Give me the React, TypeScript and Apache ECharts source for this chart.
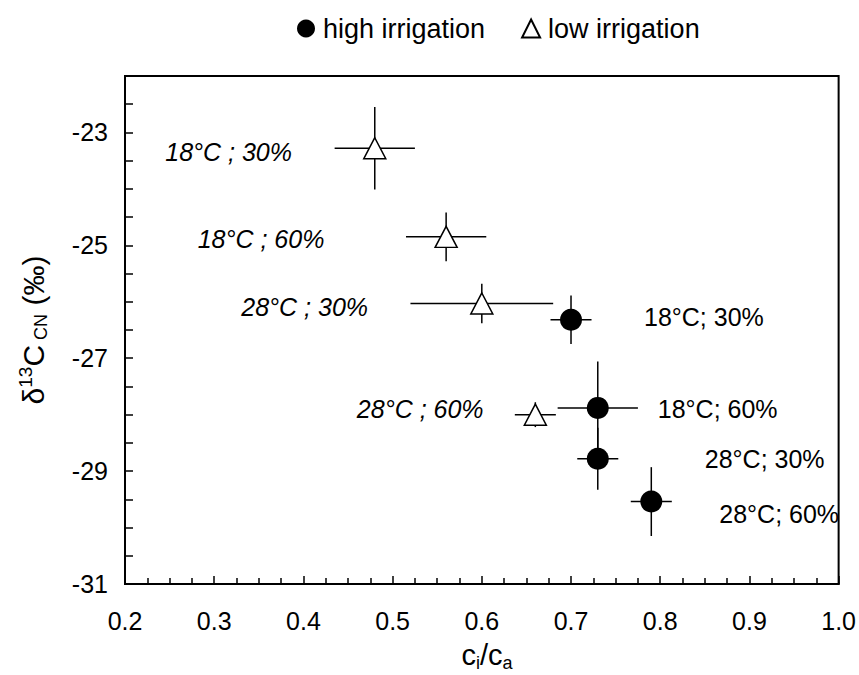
import React, { useEffect, useRef } from 'react';
import * as echarts from 'echarts';

// High irrigation (filled circles)
const highX = [0.7, 0.73, 0.73, 0.79];
const highY = [-26.32, -27.88, -28.78, -29.54];
const highXErr = [0.023, 0.045, 0.023, 0.023];
const highYErr = [0.43, 0.82, 0.55, 0.61];
const highLabels = ['18°C; 30%', '18°C; 60%', '28°C; 30%', '28°C; 60%'];

// Low irrigation (open triangles)
const lowX = [0.48, 0.56, 0.6, 0.66];
const lowY = [-23.28, -24.85, -26.03, -28.0];
const lowXErr = [0.045, 0.045, 0.08, 0.023];
const lowYErr = [0.73, 0.43, 0.35, 0.22];
const lowLabels = ['18°C ; 30%', '18°C ; 60%', '28°C ; 30%', '28°C ; 60%'];

const seriesNames = ['high irrigation', 'low irrigation'];
const yTickLabels = [-31, -29, -27, -25, -23];

export default function App() {
  const ref = useRef<HTMLDivElement>(null);
  useEffect(() => {
    document.body.style.margin = '0';
    const chart = echarts.init(ref.current as HTMLDivElement, null, { renderer: 'svg' });
    const font = '"Liberation Sans", Arial, sans-serif';

    // label offsets (styling only)
    const highOffsets = [[62, -3], [49, 1], [96, 0], [57, 12]];
    const lowOffsets = [[-71, 4], [-110, 2], [-102, 4], [-40, -6]];

    const highData = highX.map((x, i) => ({
      value: [x, highY[i]],
      label: {
        show: true,
        position: 'right',
        distance: 0,
        offset: highOffsets[i],
        formatter: highLabels[i],
        color: '#000',
        fontSize: 25,
        fontFamily: font,
      },
    }));
    const lowData = lowX.map((x, i) => ({
      value: [x, lowY[i]],
      label: {
        show: true,
        position: 'left',
        distance: 0,
        offset: lowOffsets[i],
        formatter: lowLabels[i],
        color: '#000',
        fontSize: 25,
        fontStyle: 'italic',
        fontFamily: font,
      },
    }));
    const errData = [
      ...highX.map((x, i) => [x, highY[i], highXErr[i], highYErr[i]]),
      ...lowX.map((x, i) => [x, lowY[i], lowXErr[i], lowYErr[i]]),
    ];

    chart.setOption({
      animation: false,
      grid: {
        left: 125,
        right: 19,
        top: 76,
        bottom: 91,
        show: true,
        borderColor: '#000',
        borderWidth: 2,
        backgroundColor: 'transparent',
      },
      legend: {
        data: [
          { name: seriesNames[0], icon: 'circle' },
          { name: seriesNames[1], icon: 'triangle' },
        ],
        left: 297,
        top: 15,
        itemWidth: 18,
        itemHeight: 18,
        itemGap: 36,
        padding: 0,
        textStyle: { fontSize: 27, color: '#000', fontFamily: font, padding: [0, 0, 0, 3] },
      },
      xAxis: {
        type: 'value',
        min: 0.2,
        max: 1.0,
        interval: 0.1,
        splitLine: { show: false },
        axisLine: { lineStyle: { color: '#000', width: 2 } },
        axisTick: { inside: true, length: 8, lineStyle: { color: '#000', width: 1.5 } },
        minorTick: { show: true, splitNumber: 4, length: 6, lineStyle: { color: '#000', width: 1.5 } },
        axisLabel: {
          color: '#000',
          fontSize: 25,
          fontFamily: font,
          margin: 24,
          formatter: (v: number) => v.toFixed(1),
        },
      },
      yAxis: {
        type: 'value',
        min: -31,
        max: -22,
        interval: 1,
        splitLine: { show: false },
        axisLine: { lineStyle: { color: '#000', width: 2 } },
        axisTick: { inside: true, length: 8, lineStyle: { color: '#000', width: 1.5 } },
        minorTick: { show: true, splitNumber: 2, length: 8, lineStyle: { color: '#000', width: 1.5 } },
        axisLabel: {
          color: '#000',
          fontSize: 25,
          fontFamily: font,
          margin: 17,
          formatter: (v: number) => (yTickLabels.indexOf(Math.round(v)) >= 0 && Math.abs(v - Math.round(v)) < 1e-6 ? String(Math.round(v)) : ''),
        },
      },
      series: [
        {
          type: 'custom',
          silent: true,
          z: 1,
          data: errData,
          encode: { x: 0, y: 1 },
          renderItem: (params: any, api: any) => {
            const x = api.value(0);
            const y = api.value(1);
            const dx = api.value(2);
            const dy = api.value(3);
            const l = api.coord([x - dx, y]);
            const r = api.coord([x + dx, y]);
            const t = api.coord([x, y + dy]);
            const b = api.coord([x, y - dy]);
            const st = { stroke: '#000', lineWidth: 1.5 };
            return {
              type: 'group',
              children: [
                { type: 'line', shape: { x1: l[0], y1: l[1], x2: r[0], y2: r[1] }, style: st },
                { type: 'line', shape: { x1: t[0], y1: t[1], x2: b[0], y2: b[1] }, style: st },
              ],
            };
          },
        },
        {
          type: 'scatter',
          name: seriesNames[0],
          data: highData,
          symbol: 'circle',
          symbolSize: 22,
          itemStyle: { color: '#000', opacity: 1 },
          z: 3,
        },
        {
          type: 'scatter',
          name: seriesNames[1],
          data: lowData,
          symbol: 'triangle',
          symbolSize: [22, 21],
          itemStyle: { color: '#fff', borderColor: '#000', borderWidth: 1.5, opacity: 1 },
          z: 3,
        },
      ],
      graphic: [
        {
          type: 'text',
          x: 33,
          y: 330,
          rotation: Math.PI / 2,
          style: {
            text: '{m|δ}{sup|13}{m|C}{sub| CN}{m| (‰)}',
            align: 'center',
            verticalAlign: 'middle',
            fill: '#000',
            rich: {
              m: { fontSize: 30, fontFamily: font, lineHeight: 34, color: '#000' },
              sup: { fontSize: 19, fontFamily: font, lineHeight: 18, verticalAlign: 'top', color: '#000' },
              sub: { fontSize: 18, fontFamily: font, lineHeight: 24, verticalAlign: 'bottom', color: '#000' },
            },
          },
        },
        {
          type: 'text',
          x: 487,
          y: 655,
          style: {
            text: '{m|c}{sub|i}{m|/c}{sub|a}',
            align: 'center',
            verticalAlign: 'middle',
            fill: '#000',
            rich: {
              m: { fontSize: 29, fontFamily: font, lineHeight: 34, color: '#000' },
              sub: { fontSize: 18, fontFamily: font, lineHeight: 16, verticalAlign: 'bottom', color: '#000' },
            },
          },
        },
      ],
    });
    return () => chart.dispose();
  }, []);
  return <div ref={ref} style={{ width: 859, height: 675 }} />;
}
